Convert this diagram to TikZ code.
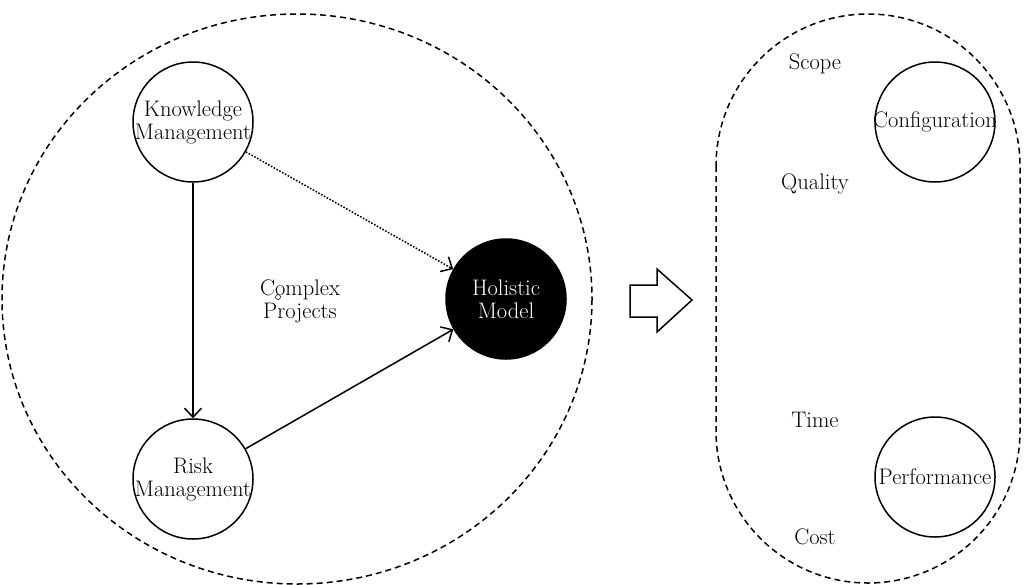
\documentclass[tikz,border=0pt]{standalone}
\usetikzlibrary{arrows.meta}
% zero-width line so long words may overhang the circle rim
\newcommand\fitline[1]{\makebox[0pt][c]{#1}}
\begin{document}
\begin{tikzpicture}[x=1pt,y=-1pt,
  every node/.style={font=\fontsize{22.5}{23}\selectfont},
  ring/.style={circle,draw,line width=1.5pt,minimum size=120pt,inner sep=0pt,align=center},
  darkring/.style={ring,fill=black,text=white},
  label/.style={inner sep=0pt,anchor=center},
  boundary/.style={draw,line width=1.5pt,dash pattern=on 6pt off 4pt},
  link/.style={line width=1.5pt,-{Straight Barb[length=9pt,width=17pt,line width=1.5pt]}},
  hint/.style={link,dash pattern=on 1.6pt off 1.6pt},
  blockarrow/.style={draw,line width=1.5pt,line join=miter}
]
\useasboundingbox (0,0) rectangle (1024,584);

% outer dashed regions
\draw[boundary] (297,299) ellipse [x radius=295, y radius=285];
\draw[boundary,rounded corners=152pt] (716,14) rectangle (1020,583);

% left group
\node[ring] (km) at (193,122) {\fitline{Knowledge}\\\fitline{Management}};
\node[ring] (rm) at (193,479) {\fitline{Risk}\\\fitline{Management}};
\node[darkring] (hm) at (506,299) {\fitline{Holistic}\\\fitline{Model}};
\node[label,align=center] (cp) at (300,301) {Complex\\Projects};
\node[circle,draw,inner sep=0pt,minimum size=5pt,line width=0.6pt] (pin) at (278,297) {};

\draw[link] (km) -- (rm);
\draw[link] (rm) -- (hm);
\draw[hint] (km) -- (hm);

% transition arrow
\draw[blockarrow] (630,285) -- (657,285) -- (657,269) -- (692,300)
  -- (657,332) -- (657,317) -- (630,317) -- cycle;

% right group
\node[ring] (cfg) at (935,122) {\fitline{Configuration}};
\node[ring] (perf) at (935,477) {\fitline{Performance}};
\node[label] (scope) at (815,64) {Scope};
\node[label] (quality) at (815,184) {Quality};
\node[label] (time) at (815,420) {Time};
\node[label] (cost) at (815,537) {Cost};
\end{tikzpicture}
\end{document}
